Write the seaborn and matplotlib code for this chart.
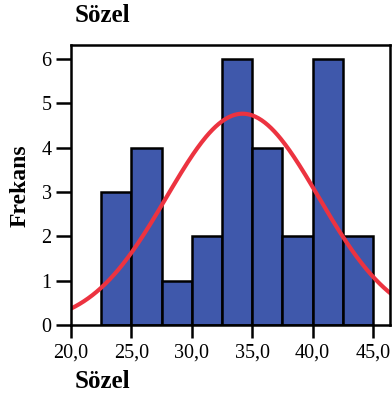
import numpy as np
import pandas as pd
import matplotlib
matplotlib.use("Agg")
import matplotlib.pyplot as plt
import seaborn as sns

# Data
bin_edges = [22.5, 25.0, 27.5, 30.0, 32.5, 35.0, 37.5, 40.0, 42.5, 45.0]
counts = [3, 4, 1, 2, 6, 4, 2, 6, 2]
curve_mean = 34.2
curve_sd = 6.28
x_ticks = [20.0, 25.0, 30.0, 35.0, 40.0, 45.0]
x_tick_labels = ["20,0", "25,0", "30,0", "35,0", "40,0", "45,0"]
y_ticks = [0, 1, 2, 3, 4, 5, 6]
title = "Sözel"
xlabel = "Sözel"
ylabel = "Frekans"

sns.set_theme(style="white")
plt.rcParams['font.family'] = ['Liberation Serif', 'DejaVu Serif']

fig = plt.figure(figsize=(3.92, 4.01), dpi=100)
ax = fig.add_axes([0.181, 0.1895, 0.814, 0.699])

mids = [(bin_edges[i] + bin_edges[i + 1]) / 2 for i in range(len(counts))]
df = pd.DataFrame({"x": mids, "w": counts})
sns.histplot(data=df, x="x", weights="w", bins=bin_edges, ax=ax,
             color="#3F58AB", alpha=1, edgecolor="black", linewidth=1.8)

n = sum(counts)
bw = bin_edges[1] - bin_edges[0]
xs = np.linspace(20, 46.5, 300)
ys = n * bw * np.exp(-(xs - curve_mean) ** 2 / (2 * curve_sd ** 2)) / (curve_sd * np.sqrt(2 * np.pi))
sns.lineplot(x=xs, y=ys, ax=ax, color="#EC3340", linewidth=3.0)

ax.set_xlim(20, 46.4)
ax.set_ylim(0, 6.32)
ax.set_xticks(x_ticks)
ax.set_xticklabels(x_tick_labels, fontsize=14.5)
ax.set_yticks(y_ticks)
ax.set_yticklabels([str(v) for v in y_ticks], fontsize=14.5)
ax.tick_params(axis="both", direction="out", width=1.8, color="black",
               bottom=True, left=True, labelcolor="black")
ax.tick_params(axis="x", length=9, pad=4)
ax.tick_params(axis="y", length=11, pad=3)
for s in ax.spines.values():
    s.set_color("black")
    s.set_linewidth(1.8)
ax.set_xlabel("")
ax.set_ylabel("")
fig.text(0.052, 0.538, ylabel, fontsize=17, fontweight="bold", rotation=90,
         ha="center", va="center", color="black")

fig.text(0.19, 0.962, title, fontsize=18, fontweight="bold", ha="left", va="center", color="black")
fig.text(0.19, 0.048, xlabel, fontsize=18, fontweight="bold", ha="left", va="center", color="black")

fig.savefig("out.png", dpi=100)
